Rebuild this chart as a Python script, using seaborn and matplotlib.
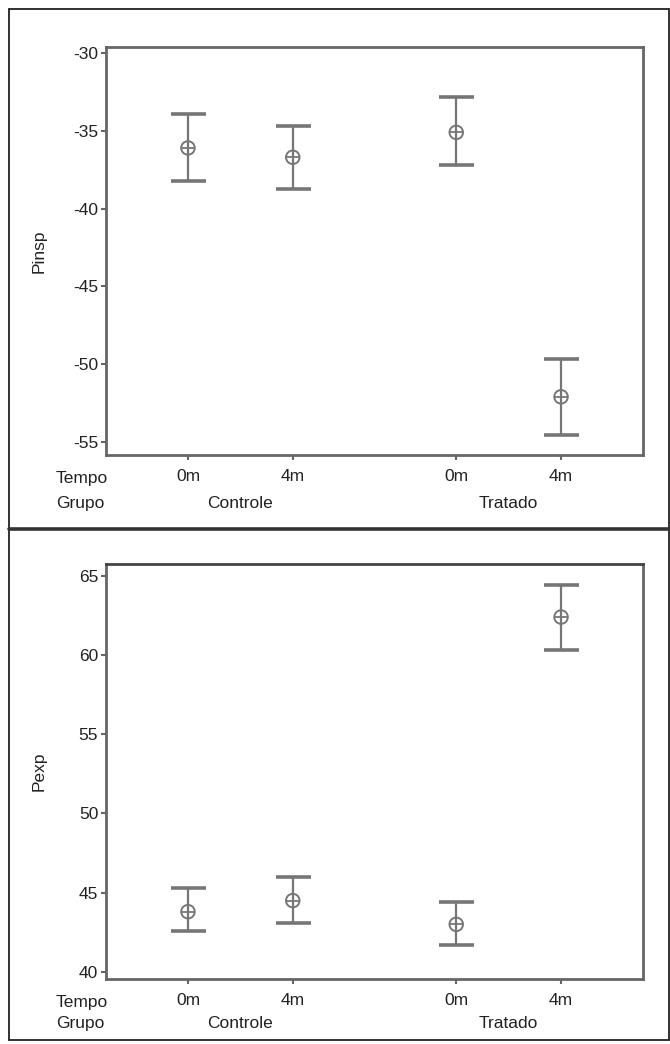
import pandas as pd
import seaborn as sns
import matplotlib.pyplot as plt
from matplotlib.lines import Line2D

# data
grupo = ["Controle", "Controle", "Tratado", "Tratado"]
tempo = ["0m", "4m", "0m", "4m"]

pinsp_mean = [-36.1, -36.7, -35.1, -52.1]
pinsp_low = [-38.25, -38.75, -37.2, -54.55]
pinsp_high = [-33.9, -34.7, -32.8, -49.65]

pexp_mean = [43.8, 44.5, 43.0, 62.4]
pexp_low = [42.6, 43.1, 41.7, 60.3]
pexp_high = [45.3, 46.0, 44.4, 64.4]

pinsp_ticks = [-55, -50, -45, -40, -35, -30]
pexp_ticks = [40, 45, 50, 55, 60, 65]

sns.set_theme(style="white")
plt.rcParams['font.family'] = ['Liberation Sans Narrow', 'Liberation Sans', 'DejaVu Sans']

W, H = 670, 1044
GRAY = '#767676'
SPINE = '#666666'
TXT = '#222222'
FS = 12.5

fig = plt.figure(figsize=(W / 100, H / 100), dpi=100)


def axes_px(l, t, r, b):
    return fig.add_axes([l / W, 1 - b / H, (r - l) / W, (b - t) / H])


# x position: tempo within group, groups spaced apart
groups_order = ["Controle", "Tratado"]
tempos_order = ["0m", "4m"]
pos = [groups_order.index(g) * 2.56 + tempos_order.index(t) for g, t in zip(grupo, tempo)]


def panel(ax, mean, low, high, ylabel, yticks, ylim, grupo_off):
    df = pd.DataFrame({"pos": pos, "grupo": grupo, "tempo": tempo,
                       "mean": mean, "low": low, "high": high})
    ax.errorbar(df["pos"], df["mean"],
                yerr=[df["mean"] - df["low"], df["high"] - df["mean"]],
                fmt='none', ecolor=GRAY, elinewidth=1.6, capsize=12.6, capthick=2.6)
    sns.scatterplot(data=df, x="pos", y="mean", marker='o', s=95,
                    facecolor='none', edgecolor=GRAY, linewidth=1.4, ax=ax, legend=False)
    sns.scatterplot(data=df, x="pos", y="mean", marker='+', s=95,
                    color=GRAY, linewidth=1.3, ax=ax, legend=False)

    ax.set_xlim(-0.782, 4.342)
    ax.set_ylim(*ylim)
    ax.set_yticks(yticks)
    ax.set_yticklabels([str(v) for v in yticks])
    ax.set_xticks(df["pos"])
    ax.set_xticklabels(df["tempo"])
    ax.set_xlabel('')
    ax.set_ylabel(ylabel, fontsize=FS, color=TXT)
    ax.yaxis.set_label_coords(-0.11, 0.5)
    ax.tick_params(axis='both', bottom=True, left=True, length=3.6, width=1.5,
                   color=SPINE, labelsize=FS, labelcolor=TXT)
    ax.tick_params(axis='x', pad=6.5)
    ax.tick_params(axis='y', pad=2)
    ax.grid(False)
    for s in ax.spines.values():
        s.set_visible(True)
        s.set_color(SPINE)
        s.set_linewidth(2)

    # second row of category labels
    ax.annotate("Tempo", xy=(56, 0), xycoords=('figure pixels', 'axes fraction'),
                xytext=(0, -16.6), textcoords='offset points', ha='left', va='center',
                fontsize=FS, color=TXT)
    ax.annotate("Grupo", xy=(56, 0), xycoords=('figure pixels', 'axes fraction'),
                xytext=(0, -grupo_off), textcoords='offset points', ha='left', va='center',
                fontsize=FS, color=TXT)
    for g in groups_order:
        gx = df.loc[df["grupo"] == g, "pos"].mean()
        ax.annotate(g, xy=(gx, 0), xycoords=('data', 'axes fraction'),
                    xytext=(0, -grupo_off), textcoords='offset points', ha='center', va='center',
                    fontsize=FS, color=TXT)


ax1 = axes_px(106, 47, 643, 455)
ax2 = axes_px(106, 564, 643, 979)

panel(ax1, pinsp_mean, pinsp_low, pinsp_high, "Pinsp", pinsp_ticks, (-55.84, -29.61), 35)
panel(ax2, pexp_mean, pexp_low, pexp_high, "Pexp", pexp_ticks, (39.55, 65.75), 32)
ax2.spines['top'].set_color('#444444')

# outer frame and divider
def fline(x0, y0, x1, y1, lw, c):
    fig.add_artist(Line2D([x0 / W, x1 / W], [1 - y0 / H, 1 - y1 / H],
                          transform=fig.transFigure, lw=lw, color=c))

fline(9, 9, 669, 9, 1.3, '#222222')
fline(9, 1040, 669, 1040, 1.3, '#222222')
fline(9, 9, 9, 1040, 1.3, '#222222')
fline(669, 9, 669, 1040, 1.3, '#222222')
fline(9, 529, 669, 529, 2.6, '#333333')

fig.savefig('out.png', dpi=100)
